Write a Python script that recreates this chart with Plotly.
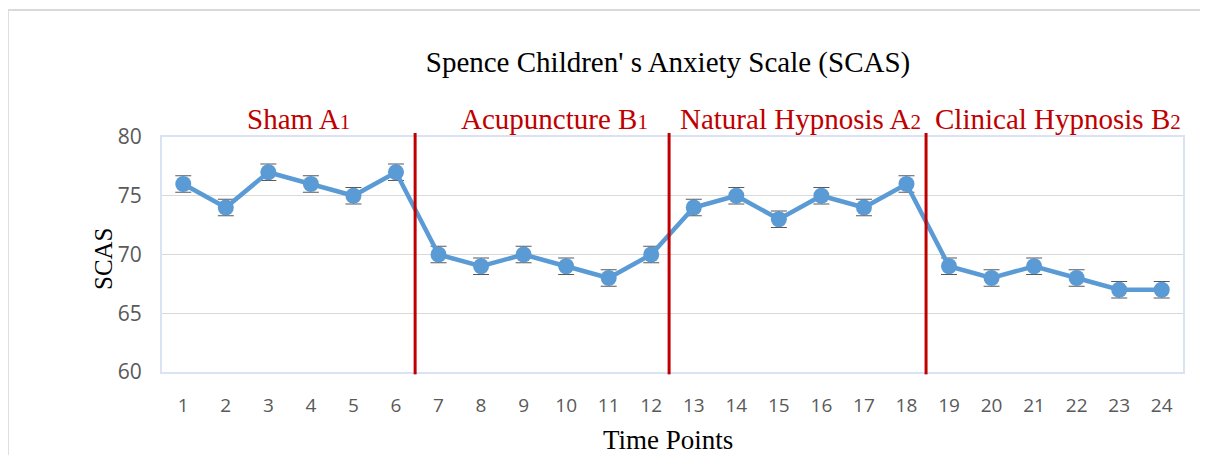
import plotly.graph_objects as go

time_points = list(range(1, 25))
tick_labels = [str(t) for t in time_points]
scas_values = [76, 74, 77, 76, 75, 77, 70, 69, 70, 69, 68, 70,
               74, 75, 73, 75, 74, 76, 69, 68, 69, 68, 67, 67]
error_values = [0.7] * 24
phase_breaks = [6.45, 12.42, 18.46]
phase_labels = ["Sham A<span style='font-size:21px'>1</span>",
                "Acupuncture B<span style='font-size:21px'>1</span>",
                "Natural Hypnosis A<span style='font-size:21px'>2</span>",
                "Clinical Hypnosis B<span style='font-size:21px'>2</span>"]
phase_label_x = [3.72, 9.72, 15.52, 21.56]

serif = "Liberation Serif, Times New Roman, serif"
sans = "Open Sans, Calibri, sans-serif"

fig = go.Figure()
fig.add_trace(go.Scatter(
    x=time_points, y=scas_values, mode="lines+markers",
    line=dict(color="#5B9BD5", width=4.5),
    marker=dict(color="#5B9BD5", size=16),
    error_y=dict(type="data", array=error_values, visible=True,
                 color="#595959", thickness=1.2, width=8),
    showlegend=False,
))

shapes = []
for b in phase_breaks:
    shapes.append(dict(type="line", xref="x", yref="paper", x0=b, x1=b,
                       y0=-0.01, y1=1.017, line=dict(color="#C00000", width=3)))
# outer chart frame (top and left)
shapes.append(dict(type="line", xref="paper", yref="paper", x0=-0.151, x1=1.05,
                   y0=1.54, y1=1.54, line=dict(color="#D9D9D9", width=2)))
shapes.append(dict(type="line", xref="paper", yref="paper", x0=-0.151, x1=-0.151,
                   y0=-0.5, y1=1.54, line=dict(color="#D9D9D9", width=2)))

annotations = []
for lbl, lx in zip(phase_labels, phase_label_x):
    annotations.append(dict(x=lx, y=1.075, xref="x", yref="paper", text=lbl,
                            showarrow=False, yanchor="middle",
                            font=dict(family=serif, size=29, color="#C00000")))
annotations.append(dict(x=0.496, y=-0.289, xref="paper", yref="paper",
                        text="Time Points", showarrow=False, yanchor="middle",
                        font=dict(family=serif, size=27, color="black")))
annotations.append(dict(x=-0.0578, y=0.485, xref="paper", yref="paper",
                        text="SCAS", showarrow=False, textangle=-90,
                        xanchor="center", yanchor="middle",
                        font=dict(family=serif, size=25, color="black")))

fig.update_layout(
    width=1200, height=447,
    margin=dict(l=154, r=25, t=129, b=83),
    paper_bgcolor="white", plot_bgcolor="white",
    title=dict(text="Spence Children' s Anxiety Scale (SCAS)", x=0.55, xanchor="center",
               y=0.879, yanchor="middle",
               font=dict(family=serif, size=29, color="black")),
    shapes=shapes, annotations=annotations,
    xaxis=dict(range=[0.5, 24.5], tickmode="array", tickvals=time_points,
               ticktext=tick_labels, showgrid=False, zeroline=False,
               showline=True, linecolor="#DAE3F3", linewidth=2, mirror=True,
               tickfont=dict(family=sans, size=19, color="#595959"),
               ticks="", ticklabelstandoff=15),
    yaxis=dict(range=[60, 80], tickvals=[60, 65, 70, 75, 80],
               showgrid=True, gridcolor="#D9D9D9", gridwidth=1, zeroline=False,
               showline=True, linecolor="#DAE3F3", linewidth=2, mirror=True,
               tickfont=dict(family=sans, size=21, color="#595959"),
               ticks="", ticklabelstandoff=14),
)

fig.write_html("out.html")
